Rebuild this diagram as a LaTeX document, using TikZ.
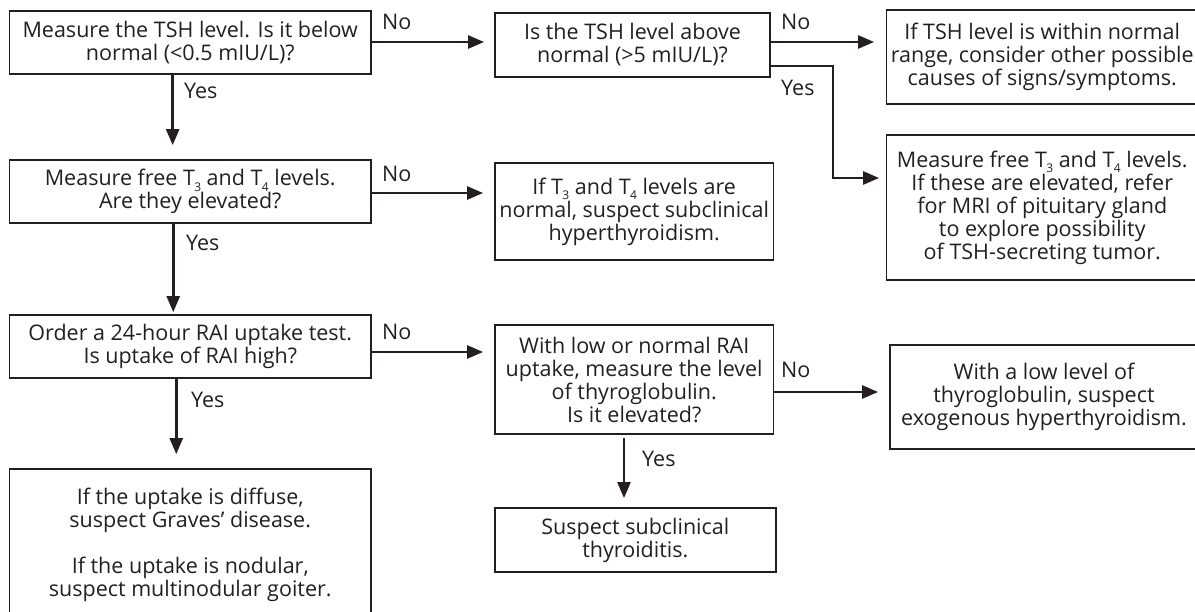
\documentclass[tikz,border=0pt]{standalone}
\usepackage{fontspec}
\setmainfont{Open Sans}
\usetikzlibrary{arrows.meta}
\definecolor{ink}{HTML}{231F20}
\newcommand{\Tn}[1]{T\kern-0.03em\raisebox{-0.5ex}{\fontsize{12}{12}\selectfont #1}}
\begin{document}
\begin{tikzpicture}[x=1pt,y=-1pt,
  box/.style={draw=ink, line width=1.8pt, text=ink, align=center, inner sep=0pt,
    font=\fontsize{21.5}{23}\selectfont},
  arr/.style={draw=ink, line width=2.6pt, -{Triangle[length=16pt,width=13pt]}},
  lbl/.style={text=ink, anchor=west, inner sep=0pt, font=\fontsize{21.5}{23}\selectfont}]
\useasboundingbox (0,0) rectangle (1195,612);
\clip (0,0) rectangle (1195,612);
% boxes
\node[box, minimum width=361.5pt, minimum height=63pt] (A) at (190.25,42.5)
  {Measure the TSH level. Is it below\\normal (<0.5 mIU/L)?};
\node[box, minimum width=275pt, minimum height=64pt] (B) at (632.5,45)
  {Is the TSH level above\\normal (>5 mIU/L)?};
\node[box, minimum width=311.5pt, minimum height=94pt] (J) at (1042.25,57)
  {If TSH level is within normal\\range, consider other possible\\causes of signs/symptoms.};
\node[box, minimum width=311.5pt, minimum height=145pt] (K) at (1042.25,207.5)
  {Measure free \Tn{3} and \Tn{4} levels.\\If these are elevated, refer\\for MRI of pituitary gland\\to explore possibility\\of TSH-secreting tumor.};
\node[box, minimum width=361.5pt, minimum height=63pt] (C) at (190.25,191.5)
  {Measure free \Tn{3} and \Tn{4} levels.\\Are they elevated?};
\node[box, minimum width=278.4pt, minimum height=97pt] (D) at (634.2,211.5)
  {If \Tn{3} and \Tn{4} levels are\\normal, suspect subclinical\\hyperthyroidism.};
\node[box, minimum width=361.5pt, minimum height=63pt] (E) at (190.25,346.5)
  {Order a 24-hour RAI uptake test.\\Is uptake of RAI high?};
\node[box, minimum width=278.4pt, minimum height=109pt] (F) at (634.2,379.5)
  {With low or normal RAI\\uptake, measure the level\\of thyroglobulin.\\Is it elevated?};
\node[box, minimum width=308pt, minimum height=104pt] (H) at (1044,397)
  {With a low level of\\thyroglobulin, suspect\\exogenous hyperthyroidism.};
\node[box, minimum width=280.7pt, minimum height=64pt] (I) at (635.35,540)
  {Suspect subclinical\\thyroiditis.};
\node[box, minimum width=361.5pt, minimum height=151pt] (G) at (190.25,544.5)
  {If the uptake is diffuse,\\suspect Graves’ disease.\\[23pt]If the uptake is nodular,\\suspect multinodular goiter.};
% connectors
\draw[arr, shorten >=10pt] ([yshift=0.5pt]A.east) -- ([yshift=0.5pt]A.east -| B.west);
\draw[arr, shorten >=14pt] ([xshift=-17.6pt]A.south) -- ([xshift=-17.6pt]A.south |- C.north);
\draw[arr, shorten >=11pt] ([yshift=-1.5pt]C.east) -- ([yshift=-1.5pt]C.east -| D.west);
\draw[arr, shorten >=2pt] ([xshift=-17pt]C.south) -- ([xshift=-17pt]C.south |- E.north);
\draw[arr, shorten >=11pt] ([yshift=-5.5pt]E.east) -- ([yshift=-5.5pt]E.east -| F.west);
\draw[arr, shorten >=14pt] ([xshift=-14pt]E.south) -- ([xshift=-14pt]E.south |- G.north);
\draw[arr, shorten >=11.5pt] ([yshift=3pt]B.east) -- ([yshift=3pt]B.east -| J.west);
\coordinate (bk) at (833,66);
\draw[arr, shorten >=6.5pt] ([yshift=-21pt]B.east) -- (bk) |- ([yshift=29.5pt]K.west);
\draw[arr, shorten >=11pt] ([yshift=-12.5pt]F.east) -- ([yshift=-12.5pt]F.east -| H.west);
\draw[arr, shorten <=3pt, shorten >=9pt] ([xshift=-10.2pt]F.south) -- ([xshift=-10.2pt]F.south |- I.north);
% labels
\node[lbl] (n1) at (382,22) {No};
\node[lbl] (y1) at (184,91) {Yes};
\node[lbl] (n2) at (382,174) {No};
\node[lbl] (y2) at (186,243) {Yes};
\node[lbl] (n3) at (382,332) {No};
\node[lbl] (y3) at (191,400) {Yes};
\node[lbl] (n4) at (781,22) {No};
\node[lbl] (y4) at (781,88) {Yes};
\node[lbl] (n5) at (781,370) {No};
\node[lbl] (y5) at (642,459) {Yes};
\end{tikzpicture}
\end{document}
